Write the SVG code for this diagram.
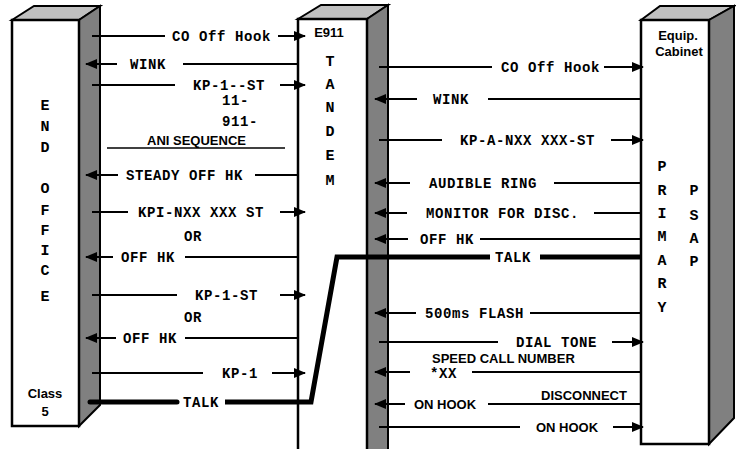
<svg xmlns="http://www.w3.org/2000/svg" width="736" height="449" viewBox="0 0 736 449">
<defs>
<marker id="ah" markerUnits="userSpaceOnUse" markerWidth="12" markerHeight="10" viewBox="0 0 12 10" refX="11" refY="5" orient="auto"><path d="M0,0 L12,5 L0,10 z" fill="#000"/></marker>
<style>
.front{fill:#fff;stroke:#000;stroke-width:2.5}
.side{fill:#808080;stroke:#000;stroke-width:2;stroke-linejoin:miter}
.top{fill:#c0c0c0;stroke:#000;stroke-width:2}
.ln{stroke:#000;stroke-width:2;fill:none}
.ar{stroke:#000;stroke-width:2;fill:none;marker-end:url(#ah)}
.thick{stroke:#000;stroke-width:5;fill:none;stroke-linejoin:miter}
.m{font-family:"Liberation Mono",monospace;font-weight:bold;font-size:14px;letter-spacing:0.6px;fill:#000}
.s{font-family:"Liberation Sans",Arial,sans-serif;font-weight:bold;font-size:13px;fill:#000}
.v{font-family:"Liberation Mono",monospace;font-weight:bold;font-size:15px;text-anchor:middle;fill:#000}
</style>
</defs>
<rect width="736" height="449" fill="#fff"/>

<g id="end-office">
<polygon class="top" points="12,20 34,6 100,6 79,20"/>
<polygon class="side" points="79,20 100,6 100,405 79,426"/>
<rect class="front" x="12" y="20" width="67" height="406"/>
<text class="v" x="45" y="110">E</text>
<text class="v" x="45" y="131">N</text>
<text class="v" x="45" y="152">D</text>
<text class="v" x="45" y="193">O</text>
<text class="v" x="45" y="215">F</text>
<text class="v" x="45" y="235">F</text>
<text class="v" x="45" y="255">I</text>
<text class="v" x="45" y="275">C</text>
<text class="v" x="45" y="301">E</text>
<text class="s" x="45" y="398" text-anchor="middle" font-size="14">Class</text>
<text class="s" x="45" y="416" text-anchor="middle" font-size="14">5</text>
</g>

<g id="e911-tandem">
<polygon class="top" points="298,19 321,5 388,5 367,19"/>
<polygon class="side" points="367,19 388,5 388,452 367,452"/>
<rect class="front" x="298" y="19" width="69" height="440"/>
<text class="s" x="329" y="37" text-anchor="middle">E911</text>
<text class="v" x="330" y="66">T</text>
<text class="v" x="330" y="89">A</text>
<text class="v" x="330" y="112">N</text>
<text class="v" x="330" y="136">D</text>
<text class="v" x="330" y="160">E</text>
<text class="v" x="330" y="185">M</text>
</g>

<g id="psap">
<polygon class="top" points="641,20 660,6 734,6 709,20"/>
<polygon class="side" points="709,20 734,6 734,418 709,444"/>
<rect class="front" x="641" y="20" width="68" height="424"/>
<text class="s" x="678" y="40" text-anchor="middle" font-size="14">Equip.</text>
<text class="s" x="679" y="56" text-anchor="middle" font-size="14">Cabinet</text>
<text class="v" x="662" y="171">P</text>
<text class="v" x="662" y="195">R</text>
<text class="v" x="662" y="218">I</text>
<text class="v" x="662" y="241">M</text>
<text class="v" x="662" y="265">A</text>
<text class="v" x="662" y="288">R</text>
<text class="v" x="662" y="312">Y</text>
<text class="v" x="694" y="195">P</text>
<text class="v" x="694" y="220">S</text>
<text class="v" x="694" y="243">A</text>
<text class="v" x="694" y="266">P</text>
</g>

<g id="connectors">
<!-- End office <-> Tandem -->
<line class="ln" x1="92" y1="36" x2="165" y2="36"/>
<text class="m" x="172" y="41">CO Off Hook</text>
<line class="ar" x1="278" y1="36" x2="305" y2="36"/>

<line class="ar" x1="117" y1="64" x2="86" y2="64"/>
<text class="m" x="130" y="69">WINK</text>
<line class="ln" x1="183" y1="64" x2="298" y2="64"/>

<line class="ln" x1="92" y1="85" x2="175" y2="85"/>
<text class="m" x="193" y="90">KP-1--ST</text>
<line class="ar" x1="280" y1="85" x2="305" y2="85"/>
<text class="m" x="222" y="105">11-</text>
<text class="m" x="222" y="126">911-</text>
<text class="s" x="147" y="145">ANI SEQUENCE</text>
<line x1="107" y1="148" x2="285" y2="148" stroke="#000" stroke-width="1.5"/>

<line class="ar" x1="118" y1="175" x2="86" y2="175"/>
<text class="m" x="126" y="180">STEADY OFF HK</text>
<line class="ln" x1="255" y1="175" x2="298" y2="175"/>

<line class="ln" x1="92" y1="212" x2="128" y2="212"/>
<text class="m" x="138" y="217">KPI-NXX XXX ST</text>
<line class="ar" x1="280" y1="212" x2="305" y2="212"/>
<text class="m" x="184" y="241">OR</text>

<line class="ar" x1="113" y1="257" x2="86" y2="257"/>
<text class="m" x="121" y="262">OFF HK</text>
<line class="ln" x1="185" y1="257" x2="298" y2="257"/>

<line class="ln" x1="92" y1="295" x2="177" y2="295"/>
<text class="m" x="195" y="300">KP-1-ST</text>
<line class="ar" x1="280" y1="295" x2="305" y2="295"/>
<text class="m" x="184" y="322">OR</text>

<line class="ar" x1="116" y1="338" x2="86" y2="338"/>
<text class="m" x="123" y="343">OFF HK</text>
<line class="ln" x1="185" y1="338" x2="298" y2="338"/>

<line class="ln" x1="92" y1="373" x2="203" y2="373"/>
<text class="m" x="222" y="378">KP-1</text>
<line class="ar" x1="272" y1="373" x2="305" y2="373"/>

<!-- TALK path -->
<line class="thick" x1="90" y1="402" x2="177" y2="402" stroke-linecap="round"/>
<text class="m" x="183" y="407">TALK</text>
<polyline class="thick" points="225,402 311,402 337,257 490,257"/>
<text class="m" x="495" y="262">TALK</text>
<line class="thick" x1="540" y1="257" x2="641" y2="257"/>

<!-- Tandem <-> PSAP -->
<line class="ln" x1="379" y1="67" x2="492" y2="67"/>
<text class="m" x="501" y="72">CO Off Hook</text>
<line class="ar" x1="604" y1="67" x2="643" y2="67"/>

<line class="ar" x1="417" y1="99" x2="375" y2="99"/>
<text class="m" x="433" y="104">WINK</text>
<line class="ln" x1="488" y1="99" x2="641" y2="99"/>

<line class="ln" x1="379" y1="140" x2="442" y2="140"/>
<text class="m" x="460" y="145">KP-A-NXX XXX-ST</text>
<line class="ar" x1="611" y1="140" x2="643" y2="140"/>

<line class="ar" x1="410" y1="183" x2="375" y2="183"/>
<text class="m" x="429" y="188">AUDIBLE RING</text>
<line class="ln" x1="554" y1="183" x2="641" y2="183"/>

<line class="ar" x1="407" y1="213" x2="375" y2="213"/>
<text class="m" x="426" y="218">MONITOR FOR DISC.</text>
<line class="ln" x1="594" y1="213" x2="641" y2="213"/>

<line class="ar" x1="408" y1="239" x2="375" y2="239"/>
<text class="m" x="420" y="244">OFF HK</text>
<line class="ln" x1="480" y1="239" x2="641" y2="239"/>

<line class="ar" x1="416" y1="313" x2="375" y2="313"/>
<text class="m" x="425" y="318">500ms FLASH</text>
<line class="ln" x1="530" y1="313" x2="641" y2="313"/>

<line class="ln" x1="379" y1="342" x2="498" y2="342"/>
<text class="m" x="516" y="347">DIAL TONE</text>
<line class="ar" x1="612" y1="342" x2="643" y2="342"/>

<text class="s" x="432" y="363">SPEED CALL NUMBER</text>
<line class="ar" x1="410" y1="372" x2="375" y2="372"/>
<text class="m" x="430" y="378">*XX</text>
<line class="ln" x1="472" y1="372" x2="641" y2="372"/>

<text class="s" x="541" y="400">DISCONNECT</text>
<line class="ar" x1="405" y1="404" x2="375" y2="404"/>
<text class="s" x="414" y="409">ON HOOK</text>
<line class="ln" x1="488" y1="404" x2="641" y2="404"/>

<line class="ln" x1="379" y1="427" x2="520" y2="427"/>
<text class="s" x="536" y="432">ON HOOK</text>
<line class="ar" x1="613" y1="427" x2="643" y2="427"/>
</g>
</svg>
